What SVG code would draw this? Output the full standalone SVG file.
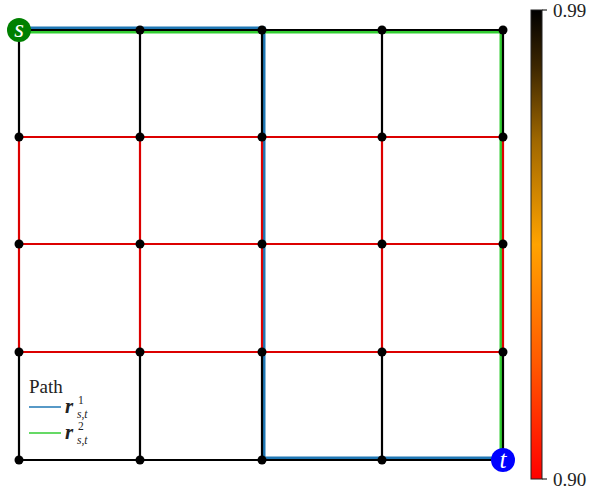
<svg xmlns="http://www.w3.org/2000/svg" width="592" height="493" viewBox="0 0 592 493">
<style>
.k{stroke:#000;stroke-width:2.2;fill:none}
.r{stroke:#dc0000;stroke-width:2.2;fill:none}
.pb{stroke:#1f77b4;stroke-width:3;fill:none}
.pg{stroke:#32cd32;stroke-width:3;fill:none}
.n{fill:#000}
.t{font-family:"Liberation Serif",serif;fill:#222}
</style>
<defs>
<linearGradient id="cb" x1="0" y1="1" x2="0" y2="0">
<stop offset="0" stop-color="#ff0000"/>
<stop offset="0.25" stop-color="#ff5a00"/>
<stop offset="0.5" stop-color="#ffa300"/>
<stop offset="0.72" stop-color="#a06800"/>
<stop offset="0.88" stop-color="#3c2600"/>
<stop offset="1" stop-color="#000000"/>
</linearGradient>
</defs>
<g id="paths">
<polyline class="pb" points="19,28 264,28 264,458 503,458"/>
<polyline class="pg" points="19,32 501,32 501,460"/>
</g>
<g id="connectors">
<path class="k" d="M19,30H503M19,460H503"/>
<path class="k" d="M19,30V137M140,30V137M262,30V137M382,30V137M503,30V137"/>
<path class="k" d="M19,352V460M140,352V460M262,352V460M382,352V460M503,352V460"/>
<path class="r" d="M19,137H503M19,244H503M19,352H503"/>
<path class="r" d="M19,137V352M140,137V352M262,137V352M382,137V352M503,137V352"/>
</g>
<g id="nodes">
<g id="r0"><circle class="n" cx="140" cy="30" r="4.5"/><circle class="n" cx="262" cy="30" r="4.5"/><circle class="n" cx="382" cy="30" r="4.5"/><circle class="n" cx="503" cy="30" r="4.5"/></g>
<g id="r1"><circle class="n" cx="19" cy="137" r="4.5"/><circle class="n" cx="140" cy="137" r="4.5"/><circle class="n" cx="262" cy="137" r="4.5"/><circle class="n" cx="382" cy="137" r="4.5"/><circle class="n" cx="503" cy="137" r="4.5"/></g>
<g id="r2"><circle class="n" cx="19" cy="244" r="4.5"/><circle class="n" cx="140" cy="244" r="4.5"/><circle class="n" cx="262" cy="244" r="4.5"/><circle class="n" cx="382" cy="244" r="4.5"/><circle class="n" cx="503" cy="244" r="4.5"/></g>
<g id="r3"><circle class="n" cx="19" cy="352" r="4.5"/><circle class="n" cx="140" cy="352" r="4.5"/><circle class="n" cx="262" cy="352" r="4.5"/><circle class="n" cx="382" cy="352" r="4.5"/><circle class="n" cx="503" cy="352" r="4.5"/></g>
<g id="r4"><circle class="n" cx="19" cy="460" r="4.5"/><circle class="n" cx="140" cy="460" r="4.5"/><circle class="n" cx="262" cy="460" r="4.5"/><circle class="n" cx="382" cy="460" r="4.5"/></g>
<g id="s"><circle cx="19" cy="30" r="12" fill="#008000"/><text x="19" y="37" text-anchor="middle" font-family="Liberation Serif,serif" font-style="italic" font-size="25" fill="#fff">s</text></g>
<g id="t"><circle cx="503" cy="460" r="12" fill="#0000ff"/><text x="503" y="468" text-anchor="middle" font-family="Liberation Serif,serif" font-style="italic" font-size="25" fill="#fff">t</text></g>
</g>
<g id="legend">
<text class="t" x="29" y="393" font-size="19">Path</text>
<line x1="29" y1="407" x2="61" y2="407" stroke="#1f77b4" stroke-width="1.5"/>
<line x1="29" y1="433" x2="61" y2="433" stroke="#32cd32" stroke-width="1.5"/>
<text class="t" x="65" y="413" font-size="21" font-weight="bold" font-style="italic">r</text>
<text class="t" x="78" y="404" font-size="11.5">1</text>
<text class="t" x="77" y="417.5" font-size="11.5" font-style="italic">s,t</text>
<text class="t" x="65" y="439" font-size="21" font-weight="bold" font-style="italic">r</text>
<text class="t" x="78" y="430" font-size="11.5">2</text>
<text class="t" x="77" y="443.5" font-size="11.5" font-style="italic">s,t</text>
</g>
<g id="colorbar">
<rect x="531" y="10" width="11" height="469" fill="url(#cb)" stroke="#222" stroke-width="1"/>
<line x1="542" y1="10" x2="547" y2="10" stroke="#000" stroke-width="1"/>
<line x1="542" y1="479" x2="547" y2="479" stroke="#000" stroke-width="1"/>
<text class="t" x="553" y="17" font-size="19">0.99</text>
<text class="t" x="553" y="486" font-size="19">0.90</text>
</g>
</svg>
